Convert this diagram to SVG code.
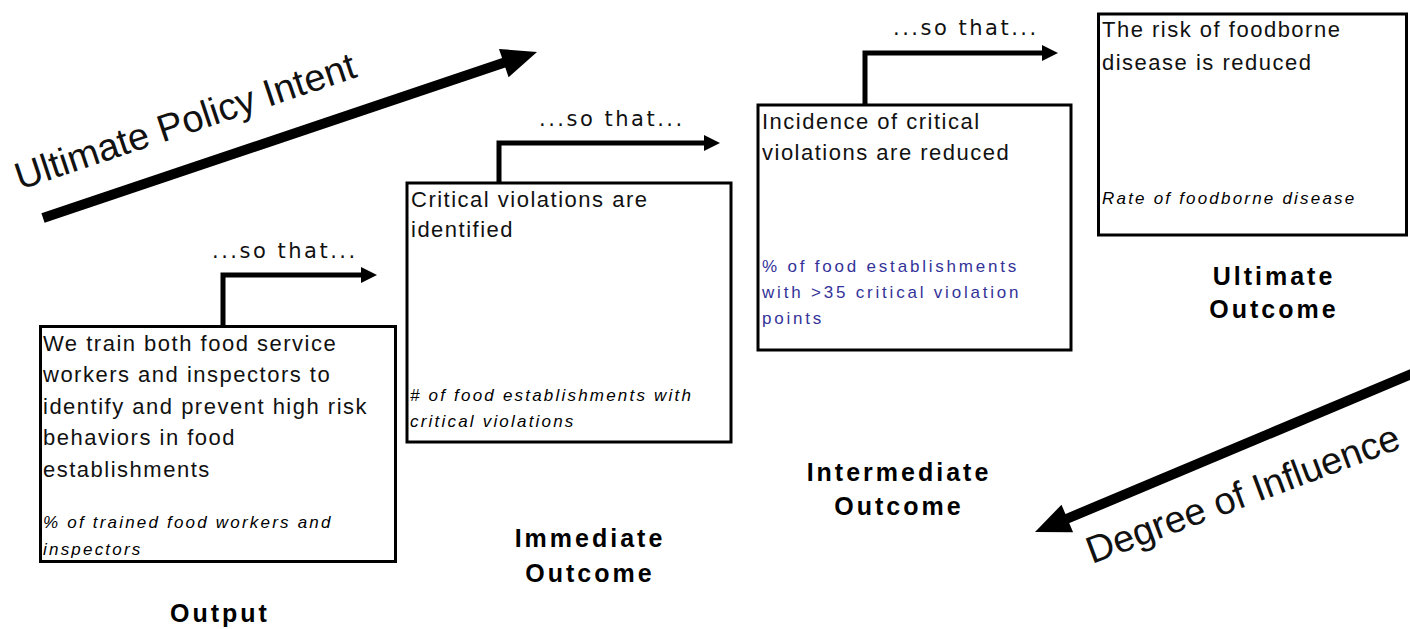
<svg xmlns="http://www.w3.org/2000/svg" width="1410" height="629" viewBox="0 0 1410 629">
<style>
.box{fill:#fff;stroke:#000;stroke-width:3}
.t{font-family:"Liberation Sans",Arial,sans-serif;font-size:22px;letter-spacing:1.5px;fill:#111}
.m{font-family:"Liberation Sans",Arial,sans-serif;font-size:17px;font-style:italic;letter-spacing:2.2px;fill:#000}
.b{font-family:"Liberation Sans",Arial,sans-serif;font-size:17px;letter-spacing:2.8px;fill:#333399}
.h{font-family:"Liberation Sans",Arial,sans-serif;font-size:25px;font-weight:bold;letter-spacing:3px;fill:#000;text-anchor:middle}
.s{font-family:"DejaVu Sans",Verdana,sans-serif;font-size:21px;letter-spacing:2.5px;fill:#111}
.big{font-family:"Liberation Sans",Arial,sans-serif;font-size:38px;fill:#111}
.c{fill:none;stroke:#000;stroke-width:5;stroke-linejoin:miter}
</style>
<rect width="1410" height="629" fill="#fff"/>

<g id="connectors">
  <polyline class="c" points="223,326 223,275 363,275"/>
  <polygon points="377,275 361,267 361,283" fill="#000"/>
  <polyline class="c" points="499,182 499,143 706,143"/>
  <polygon points="720,143 704,135 704,151" fill="#000"/>
  <polyline class="c" points="865,104 865,53 1044,53"/>
  <polygon points="1058,53 1042,45 1042,61" fill="#000"/>
</g>

<g id="intent-arrow">
  <line x1="43" y1="218" x2="506" y2="62" stroke="#000" stroke-width="10"/>
  <polygon points="537,52 508.6,77.3 499,48.9" fill="#000"/>
  <text class="big" transform="translate(20,190) rotate(-18.5)">Ultimate Policy Intent</text>
</g>

<g id="influence-arrow">
  <line x1="1414" y1="373" x2="1064" y2="520" stroke="#000" stroke-width="10"/>
  <polygon points="1035,532 1073.1,532.3 1061.5,504.7" fill="#000"/>
  <text class="big" transform="translate(1092,564) rotate(-20.5)">Degree of Influence</text>
</g>

<g id="so-that-labels">
  <text class="s" x="212" y="258">...so that...</text>
  <text class="s" x="539" y="126">...so that...</text>
  <text class="s" x="893" y="35">...so that...</text>
</g>

<g id="output">
  <rect class="box" x="40.5" y="326.5" width="355" height="235"/>
  <text class="t" x="43" y="351">We train both food service</text>
  <text class="t" x="43" y="382">workers and inspectors to</text>
  <text class="t" x="43" y="414">identify and prevent high risk</text>
  <text class="t" x="43" y="445">behaviors in food</text>
  <text class="t" x="43" y="477">establishments</text>
  <text class="m" x="43" y="528">% of trained food workers and</text>
  <text class="m" x="43" y="555">inspectors</text>
  <text class="h" x="220" y="622">Output</text>
</g>

<g id="immediate">
  <rect class="box" x="407" y="183" width="324" height="259"/>
  <text class="t" x="411" y="207">Critical violations are</text>
  <text class="t" x="411" y="237">identified</text>
  <text class="m" x="410" y="401">#  of food establishments with</text>
  <text class="m" x="410" y="427">critical violations</text>
  <text class="h" x="590" y="547">Immediate</text>
  <text class="h" x="590" y="582">Outcome</text>
</g>

<g id="intermediate">
  <rect class="box" x="758" y="105" width="313" height="245"/>
  <text class="t" x="762" y="129">Incidence of critical</text>
  <text class="t" x="762" y="160">violations are reduced</text>
  <text class="b" x="762" y="272">% of food establishments</text>
  <text class="b" x="762" y="298">with &gt;35 critical violation</text>
  <text class="b" x="762" y="324">points</text>
  <text class="h" x="899" y="481">Intermediate</text>
  <text class="h" x="899" y="515">Outcome</text>
</g>

<g id="ultimate">
  <rect class="box" x="1098.5" y="14" width="308" height="221"/>
  <text class="t" x="1102" y="37">The risk of foodborne</text>
  <text class="t" x="1102" y="70">disease is reduced</text>
  <text class="m" x="1102" y="204">Rate of foodborne disease</text>
  <text class="h" x="1274" y="285">Ultimate</text>
  <text class="h" x="1274" y="318">Outcome</text>
</g>
</svg>
